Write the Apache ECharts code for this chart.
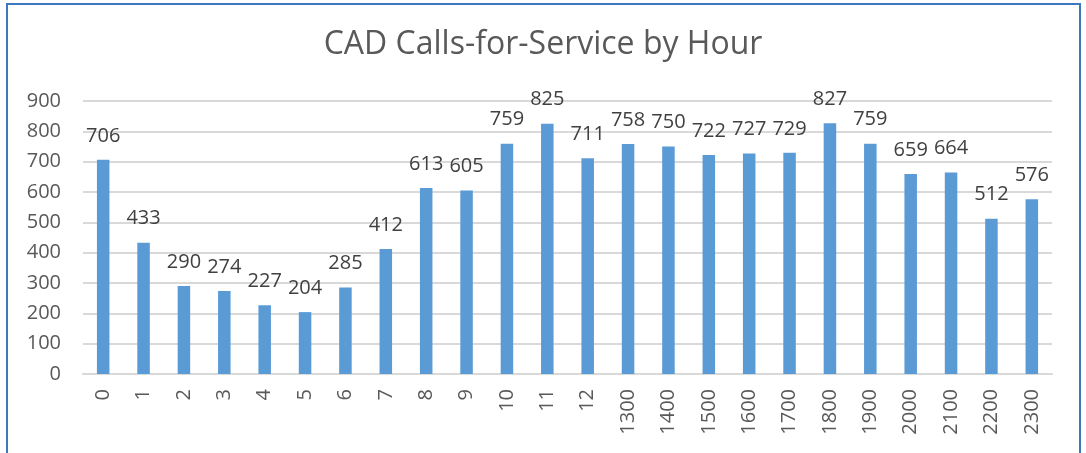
<!DOCTYPE html>
<html>
<head>
<meta charset="utf-8">
<script src="https://cdn.jsdelivr.net/npm/echarts@6/dist/echarts.min.js"></script>
<style>
  html, body { margin: 0; padding: 0; background: #fff; }
  #chart { position: absolute; left: 0; top: 0; width: 1086px; height: 453px; }
  #frame { position: absolute; left: 6px; top: 3px; width: 1075px; height: 470px;
           border: 2px solid #3b78be; box-sizing: border-box; pointer-events: none; }
</style>
</head>
<body>
<div id="chart"></div>
<div id="frame"></div>
<script>
const hours = ['0', '1', '2', '3', '4', '5', '6', '7', '8', '9', '10', '11', '12',
  '1300', '1400', '1500', '1600', '1700', '1800', '1900', '2000', '2100', '2200', '2300']
const calls = [706, 433, 290, 274, 227, 204, 285, 412, 613, 605, 759, 825, 711,
  758, 750, 722, 727, 729, 827, 759, 659, 664, 512, 576]

const font = '"Open Sans", "Noto Sans", sans-serif'
const chart = echarts.init(document.getElementById('chart'))

chart.setOption({
  animation: false,
  title: {
    text: 'CAD Calls-for-Service by Hour',
    left: 'center',
    top: 24,
    textStyle: { fontFamily: font, fontSize: 32, fontWeight: 'normal', color: '#595959' }
  },
  grid: { left: 83, right: 34, top: 101, bottom: 79 },
  xAxis: {
    type: 'category',
    data: hours,
    axisLine: { lineStyle: { color: '#d9d9d9', width: 2 } },
    axisTick: { show: false },
    axisLabel: {
      rotate: 90,
      margin: 15,
      fontFamily: font,
      fontSize: 20,
      color: '#595959',
      interval: 0
    }
  },
  yAxis: {
    type: 'value',
    min: 0,
    max: 900,
    interval: 100,
    axisLine: { show: false },
    axisTick: { show: false },
    splitLine: { lineStyle: { color: '#d9d9d9', width: 2 } },
    axisLabel: { margin: 22, fontFamily: font, fontSize: 20, color: '#595959' }
  },
  series: [{
    type: 'bar',
    data: calls,
    barWidth: '31%',
    itemStyle: { color: '#5b9bd5' },
    label: {
      show: true,
      position: 'top',
      distance: 14,
      fontFamily: font,
      fontSize: 20,
      color: '#404040'
    }
  }]
})
</script>
</body>
</html>
